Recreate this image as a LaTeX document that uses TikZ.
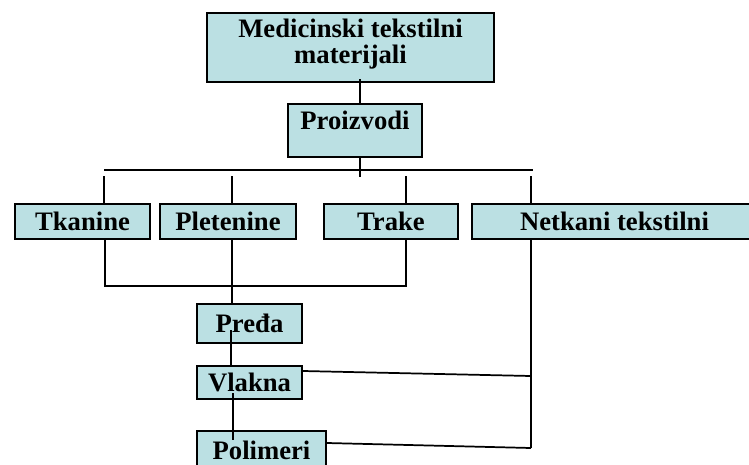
\documentclass[tikz,border=0pt]{standalone}
\usepackage{fontspec}
\setmainfont{Liberation Serif}
\usetikzlibrary{positioning}
\definecolor{boxfill}{RGB}{187,224,227}
\tikzset{
    block/.style={rectangle, draw, line width=1.5pt, fill=boxfill, align=center, inner sep=0pt, font=\fontsize{20}{19.5}\selectfont\bfseries},
    link/.style={line width=1.3pt}
}

\begin{document}
\begin{tikzpicture}[x=0.75pt, y=-0.75pt]
    \useasboundingbox (0,0) rectangle (749,464);

    % Top nodes
    \node (med) [block, minimum width=215pt, minimum height=51.75pt, text depth=10pt] at (350.5,47.5) {Medicinski tekstilni\\materijali};
    \node (proiz) [block, minimum width=100.5pt, minimum height=39.75pt, text depth=15pt] at (355,130.5) {Proizvodi};

    % Row of products
    \node (tkan) [block, minimum width=101.25pt, minimum height=26.25pt] at (82.5,221.5) {Tkanine};
    \node (plet) [block, right=6pt of tkan, minimum width=102pt, minimum height=26.25pt] {Pletenine};
    \node (trake) [block, right=19.5pt of plet, minimum width=100.5pt, minimum height=26.25pt] {Trake};
    \node (netk) [block, right=9pt of trake, minimum width=213.75pt, minimum height=26.25pt] {Netkani tekstilni};

    % Column
    \node (preda) [block, minimum width=78.75pt, minimum height=29.25pt] at (249.5,323.5) {Pređa};
    \node (vlakna) [block, below=16pt of preda, minimum width=78.75pt, minimum height=24.75pt] {Vlakna};
    \node (polim) [block, minimum width=96.75pt, minimum height=29.25pt] at (261.5,450.5) {Polimeri};

    % Tree lines
    \coordinate (hub) at (360,177);
    \coordinate (busL) at (104,170);
    \coordinate (busR) at (533,170);
    \draw [link] (360,79) -- (360,0 |- proiz.north);
    \draw [link] (hub |- proiz.south) -- (hub);
    \draw [link] (busL) -- (busR);
    \foreach \x/\n in {104/tkan, 232/plet, 406/trake, 531/netk}
        \draw [link] (\x,176) -- (\x,0 |- \n.north);

    % Bracket under the row
    \draw [link] (105,0 |- tkan.south) -- (105,286) -- (406,286) -- (406,0 |- trake.south);
    \draw [link] (232,0 |- plet.south) -- (232,0 |- preda.north);
    \draw [link] (231,330) -- (231,0 |- vlakna.north);
    \draw [link] (233,393) -- (233,440);

    % Nonwoven branch
    \draw [link] (531,0 |- netk.south) -- (531,448);
    \draw [link] (vlakna.east |- 0,371) -- (531,376);
    \draw [link] (polim.east |- 0,443) -- (531,448);

\end{tikzpicture}
\end{document}
